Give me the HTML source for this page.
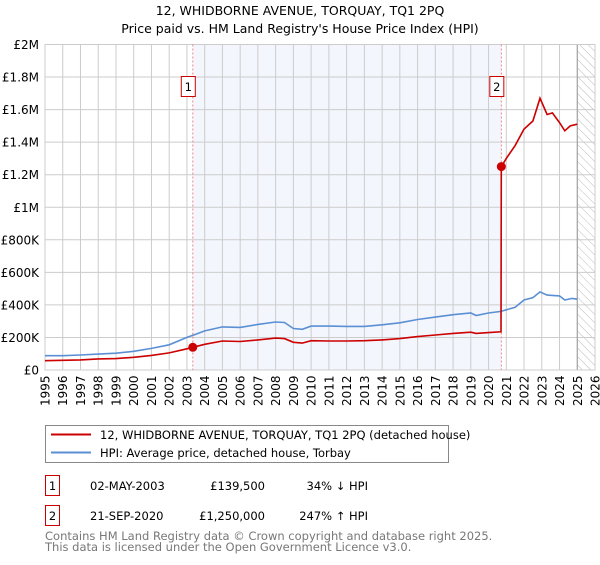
<!DOCTYPE html>
<html><head><meta charset="utf-8"><style>
body{margin:0;background:#fff;font-family:"Liberation Sans","DejaVu Sans",sans-serif;}
svg text{font-family:"DejaVu Sans","Liberation Sans",sans-serif;}
</style></head><body>
<svg id="c" width="600" height="560" viewBox="0 0 600 560" xmlns="http://www.w3.org/2000/svg">
<defs><pattern id="hatch" width="6" height="6" patternUnits="userSpaceOnUse" patternTransform="rotate(-45)"><line x1="0" y1="0" x2="0" y2="6" stroke="#bbb" stroke-width="1"/></pattern></defs>
<text x="300" y="15" text-anchor="middle" font-size="12.5">12, WHIDBORNE AVENUE, TORQUAY, TQ1 2PQ</text>
<text x="300" y="33" text-anchor="middle" font-size="12.5">Price paid vs. HM Land Registry's House Price Index (HPI)</text>
<g id="plot"></g>
<g>
<rect x="45.5" y="425.5" width="403" height="37" fill="#fff" stroke="#888"/>
<line x1="51" y1="434.5" x2="91" y2="434.5" stroke="#cc0000" stroke-width="2"/>
<text x="100" y="439" font-size="11.5">12, WHIDBORNE AVENUE, TORQUAY, TQ1 2PQ (detached house)</text>
<line x1="51" y1="452.5" x2="91" y2="452.5" stroke="#5b8fd4" stroke-width="2"/>
<text x="100" y="457" font-size="11.5">HPI: Average price, detached house, Torbay</text>
</g>
<g font-size="11.5">
<rect x="45.5" y="475.5" width="14" height="20" fill="#fff" stroke="#cc0000"/><text x="52.5" y="490" text-anchor="middle">1</text>
<text x="90" y="500" dy="-10">02-MAY-2003</text><text x="265" y="490" text-anchor="end">£139,500</text><text x="368" y="490" text-anchor="end">34% ↓ HPI</text>
<rect x="45.5" y="505.5" width="14" height="20" fill="#fff" stroke="#cc0000"/><text x="52.5" y="520" text-anchor="middle">2</text>
<text x="90" y="520">21-SEP-2020</text><text x="265" y="520" text-anchor="end">£1,250,000</text><text x="368" y="520" text-anchor="end">247% ↑ HPI</text>
</g>
<text x="45" y="540" font-size="11.5" fill="#777">Contains HM Land Registry data © Crown copyright and database right 2025.</text>
<text x="45" y="551" font-size="11.5" fill="#777">This data is licensed under the Open Government Licence v3.0.</text>
</svg>
<script>
const hpiYears=[1995,1996,1997,1998,1999,2000,2001,2002,2003,2003.5,2004,2005,2006,2007,2008,2008.5,2009,2009.5,2010,2011,2012,2013,2014,2015,2016,2017,2018,2019,2019.3,2020,2020.7,2021,2021.5,2022,2022.5,2022.9,2023.3,2024,2024.3,2024.7,2025];
const hpiValues=[88000,88000,92000,98000,103000,115000,133000,155000,200000,220000,240000,265000,262000,280000,295000,292000,255000,250000,270000,270000,268000,268000,278000,290000,310000,325000,340000,350000,335000,350000,360000,370000,385000,430000,445000,480000,460000,455000,430000,440000,435000];
const redYears=[1995,1997,1998,1999,2000,2001,2002,2003,2003.33,2004,2005,2006,2007,2008,2008.5,2009,2009.5,2010,2011,2012,2013,2014,2015,2016,2017,2018,2019,2019.3,2020,2020.7,2020.72,2021,2021.5,2022,2022.5,2022.9,2023.3,2023.6,2024,2024.3,2024.6,2025];
const redValues=[57000,62000,68000,70000,78000,90000,105000,130000,139500,158000,178000,175000,185000,196000,193000,170000,165000,180000,178000,178000,180000,185000,193000,205000,215000,225000,232000,225000,230000,235000,1250000,1300000,1380000,1480000,1530000,1670000,1570000,1580000,1520000,1470000,1500000,1510000];
const saleYears=[2003.33,2020.72];
const saleValues=[139500,1250000];
const saleLabels=["1","2"];
const yTicks=[0,200000,400000,600000,800000,1000000,1200000,1400000,1600000,1800000,2000000];
const yTickLabels=["£0","£200K","£400K","£600K","£800K","£1M","£1.2M","£1.4M","£1.6M","£1.8M","£2M"];
const xYears=[1995,1996,1997,1998,1999,2000,2001,2002,2003,2004,2005,2006,2007,2008,2009,2010,2011,2012,2013,2014,2015,2016,2017,2018,2019,2020,2021,2022,2023,2024,2025,2026];
const NS="http://www.w3.org/2000/svg";
const L=45,R=595,T=44.5,B=370;
const xs=y=>L+(y-1995)*(R-L)/31;
const ys=v=>B-v*(B-T)/2000000;
const g=document.getElementById('plot');
function mk(t,a){const e=document.createElementNS(NS,t);for(const k in a)e.setAttribute(k,a[k]);g.appendChild(e);return e;}
let e=mk('rect',{x:xs(saleYears[0]),y:T,width:xs(saleYears[1])-xs(saleYears[0]),height:B-T,fill:'#f3f6fd'});


e=mk('rect',{x:xs(2025),y:T,width:R-xs(2025),height:B-T,fill:'url(#hatch)'});


yTicks.forEach((v,i)=>{
 e=mk('line',{x1:L,x2:R,y1:ys(v),y2:ys(v),stroke:'#ccc'});
 
 
 e=mk('text',{x:L-6,y:ys(v)+4.5,'text-anchor':'end','font-size':'12'});e.textContent=yTickLabels[i];
 
 
});
xYears.forEach(yr=>{
 e=mk('line',{x1:xs(yr),x2:xs(yr),y1:T,y2:B,stroke:'#ccc'});
 
 
 e=mk('text',{x:0,y:0,'font-size':'12',transform:`translate(${xs(yr)+4.5},406) rotate(-90)`});e.textContent=yr;
 
 
});
e=mk('line',{x1:xs(2025),x2:xs(2025),y1:T,y2:B,stroke:'#999'});


e=mk('rect',{x:L,y:T,width:R-L,height:B-T,fill:'none',stroke:'#ccc'});


saleYears.forEach((yr,i)=>{
 e=mk('line',{x1:xs(yr),x2:xs(yr),y1:T,y2:B,stroke:'#e88',"stroke-dasharray":'2,2'});
 
 
});
const pts=(xa,va)=>xa.map((x,i)=>xs(x).toFixed(1)+','+ys(va[i]).toFixed(1)).join(' ');
e=mk('polyline',{points:pts(hpiYears,hpiValues),fill:'none',stroke:'#5b8fd4','stroke-width':1.6});


e=mk('polyline',{points:pts(redYears,redValues),fill:'none',stroke:'#cc0000','stroke-width':1.6});


saleYears.forEach((yr,i)=>{
 e=mk('circle',{cx:xs(yr),cy:ys(saleValues[i]),r:4.5,fill:'#cc0000'});
 
 
 e=mk('rect',{x:xs(yr)-11.5,y:76.5,width:14,height:20,fill:'#fff',stroke:'#cc0000'});
 
 
 e=mk('text',{x:xs(yr)-4.5,y:91,'text-anchor':'middle','font-size':'11.5'});e.textContent=saleLabels[i];
 
 
});
</script>
</body></html>
